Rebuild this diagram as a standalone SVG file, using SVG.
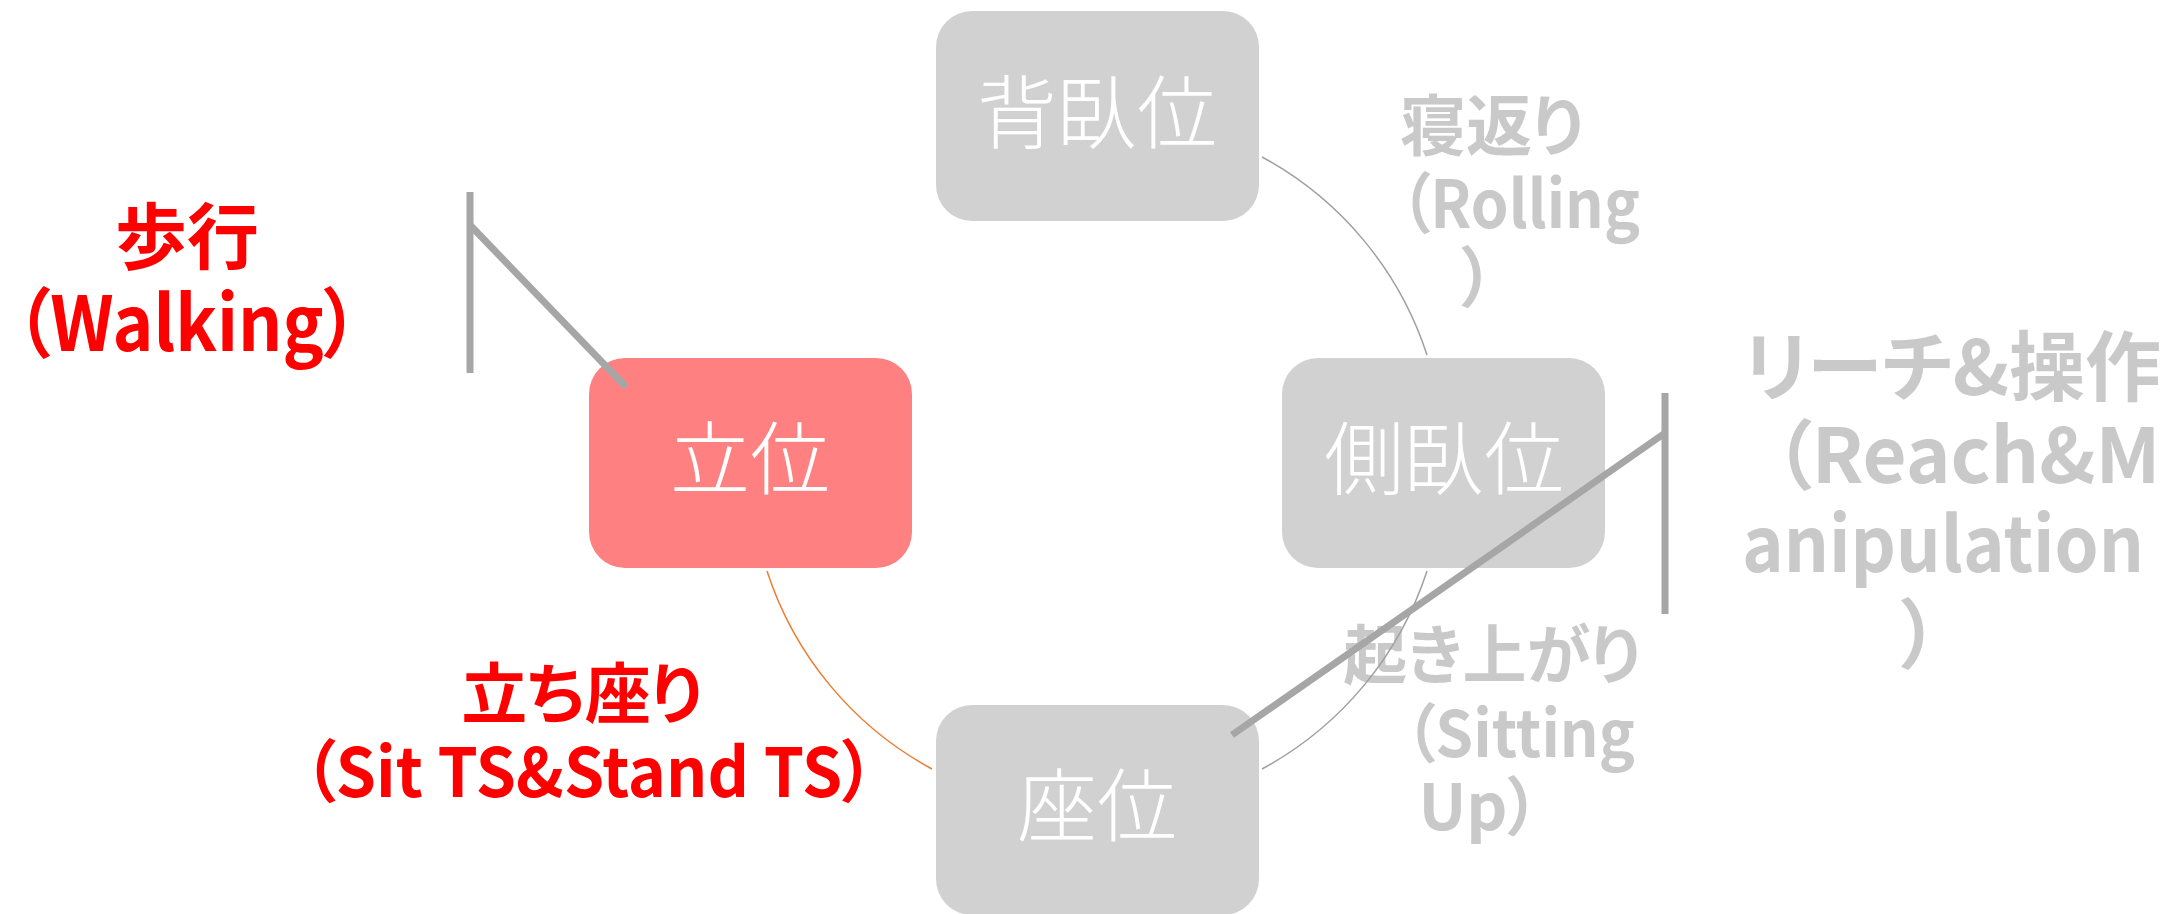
<svg xmlns="http://www.w3.org/2000/svg" width="2164" height="914" viewBox="0 0 2164 914">
<style>
  text { font-family: "Noto Sans CJK JP", "Noto Sans CJK SC", sans-serif; font-feature-settings: "palt" 1; text-anchor: middle; }
  .node rect { fill: #D1D1D1; }
  .node.active rect { fill: #FF8080; }
  .node text { fill: #FFFFFF; font-size: 80px; font-weight: 300; }
  .lbl-red { fill: #FF0000; font-weight: 700; }
  .lbl-gray { fill: #C9C9C9; font-weight: 700; }
  .arc { fill: none; stroke: #A0A0A0; stroke-width: 1.5; }
  .arc.orange { stroke: #ED7D31; }
  .bracket { fill: none; stroke: #A6A6A6; stroke-width: 7; stroke-linecap: butt; }
</style>

<g id="label-walking">
  <text class="lbl-red" x="187" y="263" font-size="72">歩行</text>
  <text class="lbl-red" x="187" y="351" font-size="76" textLength="343" lengthAdjust="spacingAndGlyphs">（Walking）</text>
</g>
<g id="label-sitstand">
  <text class="lbl-red" x="582" y="718" font-size="66">立ち座り</text>
  <text class="lbl-red" x="589" y="797" font-size="68" textLength="571" lengthAdjust="spacingAndGlyphs">（Sit TS&amp;Stand TS）</text>
</g>
<g id="label-rolling">
  <text class="lbl-gray" x="1492" y="150" font-size="66">寝返り</text>
  <text class="lbl-gray" x="1520" y="228" font-size="66" textLength="240" lengthAdjust="spacingAndGlyphs">（Rolling</text>
  <text class="lbl-gray" x="1478" y="302" font-size="66">）</text>
</g>
<g id="label-sittingup">
  <text class="lbl-gray" x="1492" y="678" font-size="64">起き上がり</text>
  <text class="lbl-gray" x="1520" y="757" font-size="64" textLength="230" lengthAdjust="spacingAndGlyphs">（Sitting</text>
  <text class="lbl-gray" x="1479" y="830" font-size="64">Up）</text>
</g>
<g id="label-reach">
  <text class="lbl-gray" x="1952" y="395" font-size="76">リーチ&amp;操作</text>
  <text class="lbl-gray" x="1967" y="483" font-size="76">（Reach&amp;M</text>
  <text class="lbl-gray" x="1943" y="572" font-size="76" textLength="402" lengthAdjust="spacingAndGlyphs">anipulation</text>
  <text class="lbl-gray" x="1920" y="662" font-size="76">）</text>
</g>

<g id="node-supine" class="node">
  <rect x="936" y="11" width="323" height="210" rx="36" ry="36"/>
  <text x="1097" y="142">背臥位</text>
</g>
<g id="node-standing" class="node active">
  <rect x="589" y="358" width="323" height="210" rx="36" ry="36"/>
  <text x="750" y="488">立位</text>
</g>
<g id="node-sidelying" class="node">
  <rect x="1282" y="358" width="323" height="210" rx="36" ry="36"/>
  <text x="1444" y="488">側臥位</text>
</g>
<g id="node-sitting" class="node">
  <rect x="936" y="705" width="323" height="210" rx="36" ry="36"/>
  <text x="1097" y="835">座位</text>
</g>

<g id="connectors">
  <path class="arc" d="M1262,157 A347,347 0 0 1 1427,355"/>
  <path class="arc" d="M1427,571 A347,347 0 0 1 1262,769"/>
  <path class="arc orange" d="M767,571 A347,347 0 0 0 932,769"/>
  <path class="bracket" d="M470,192 L470,373"/>
  <path class="bracket" d="M470,225 L626,387"/>
  <path class="bracket" d="M1665,393 L1665,614"/>
  <path class="bracket" d="M1665,433 L1232,735"/>
</g>
</svg>
